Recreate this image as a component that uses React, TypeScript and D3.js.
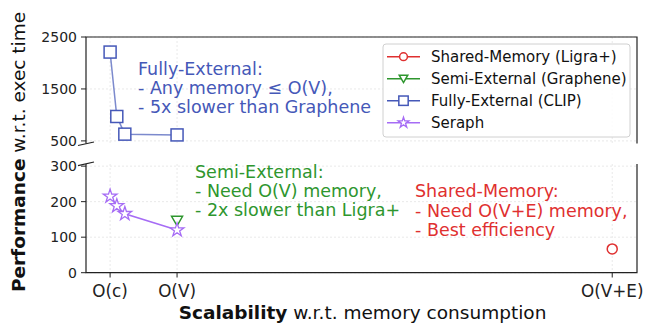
import React from "react";
import * as d3 from "d3";

// x positions on the memory axis: O(c) = 0, O(V) = 1, O(V+E) = 7.5
const xTickVals = [0, 1, 7.5];
const xTickLabels = ["O(c)", "O(V)", "O(V+E)"];

const clipX = [0, 0.1, 0.22, 1];
const clipY = [2210, 970, 630, 615];

const seraphX = [0, 0.1, 0.22, 1];
const seraphY = [215, 188, 166, 120];

const grapheneX = [1];
const grapheneY = [146];

const ligraX = [7.5];
const ligraY = [67];

const topTicks = [500, 1500, 2500];
const botTicks = [0, 100, 200, 300];

const RED = "#df3030";
const GREEN = "#2e962e";
const BLUE = "#4558b8";
const PURPLE = "#a66cf5";

const FONT = "DejaVu Sans, sans-serif";

const W = 646;
const H = 323;
const L = 86;
const R = 637;

const x = d3.scaleLinear().domain([-0.36, 7.87]).range([L, R]);
const yTop = d3.scaleLinear().domain([450, 2500]).range([143.5, 37]);
const yBot = d3.scaleLinear().domain([0, 306]).range([272.7, 164]);

const starPath = (size: number) => d3.symbol().type(d3.symbolStar).size(size)()!;

export default function App() {
  const lineTop = d3.line<number>().x((d, i) => x(clipX[i])).y((d) => yTop(d));
  const lineBot = d3.line<number>().x((d, i) => x(seraphX[i])).y((d) => yBot(d));

  const grid = "#e9e9e9";

  const legendItems = [
    { label: "Shared-Memory (Ligra+)", color: RED, kind: "circle" },
    { label: "Semi-External (Graphene)", color: GREEN, kind: "tri" },
    { label: "Fully-External (CLIP)", color: BLUE, kind: "square" },
    { label: "Seraph", color: PURPLE, kind: "star" },
  ];

  // s = scale of the marker (1 in the plot, smaller in the legend)
  const marker = (kind: string, cx: number, cy: number, color: string, s = 1) => {
    const t = `translate(${cx},${cy}) scale(${s})`;
    const sw = 1.5 / s;
    if (kind === "circle") return <circle transform={t} r={5} fill="white" stroke={color} strokeWidth={sw} />;
    if (kind === "tri") return <path d="M-5.5,-4.5L5.5,-4.5L0,5Z" transform={t} fill="white" stroke={color} strokeWidth={sw} />;
    if (kind === "square") return <rect x={-6} y={-6} width={12} height={12} transform={t} fill="white" stroke={color} strokeWidth={sw} />;
    return <path d={starPath(58)} transform={t} fill="white" stroke={color} strokeWidth={1.3 / s} />;
  };

  return (
    <svg width={W} height={H} style={{ position: "absolute", left: 0, top: 0 }} fontFamily={FONT}>
      <rect width={W} height={H} fill="white" />

      {/* grid */}
      {xTickVals.map((v) => (
        <g key={"gx" + v}>
          <line x1={x(v)} x2={x(v)} y1={37} y2={143.5} stroke={grid} strokeDasharray="2,2" />
          <line x1={x(v)} x2={x(v)} y1={164} y2={272.7} stroke={grid} strokeDasharray="2,2" />
        </g>
      ))}
      {topTicks.map((t) => (
        <line key={"gt" + t} x1={L} x2={R} y1={yTop(t)} y2={yTop(t)} stroke={grid} strokeDasharray="2,2" />
      ))}
      {botTicks.map((t) => (
        <line key={"gb" + t} x1={L} x2={R} y1={yBot(t)} y2={yBot(t)} stroke={grid} strokeDasharray="2,2" />
      ))}

      {/* spines */}
      <path d={`M${L},143.5V37H${R}V143.5`} fill="none" stroke="#222" strokeWidth={1.2} />
      <path d={`M${L},164V272.7H${R}V164`} fill="none" stroke="#222" strokeWidth={1.2} />
      <line x1={L - 8} y1={145.5} x2={L + 8} y2={142} stroke="#222" strokeWidth={1.2} />
      <line x1={L - 8} y1={165.6} x2={L + 8} y2={162} stroke="#222" strokeWidth={1.2} />

      {/* y ticks */}
      {topTicks.map((t) => (
        <g key={"tt" + t}>
          <line x1={L - 5} x2={L} y1={yTop(t)} y2={yTop(t)} stroke="#222" />
          <text x={L - 9} y={yTop(t) + 5} fontSize={14} textAnchor="end" fill="#222">{t}</text>
        </g>
      ))}
      {botTicks.map((t) => (
        <g key={"bt" + t}>
          <line x1={L - 5} x2={L} y1={yBot(t)} y2={yBot(t)} stroke="#222" />
          <text x={L - 9} y={yBot(t) + 5} fontSize={14} textAnchor="end" fill="#222">{t}</text>
        </g>
      ))}

      {/* x ticks */}
      {xTickVals.map((v, i) => (
        <g key={"xt" + v}>
          <line x1={x(v)} x2={x(v)} y1={272.7} y2={277.5} stroke="#222" />
          <text x={x(v)} y={296.5} fontSize={16.8} textAnchor="middle" fill="#222">{xTickLabels[i]}</text>
        </g>
      ))}

      {/* axis labels */}
      <text x={362.5} y={319} fontSize={18.5} textAnchor="middle" fill="#111">
        <tspan fontWeight="bold">Scalability</tspan> w.r.t. memory consumption
      </text>
      <text transform="translate(25,152) rotate(-90)" fontSize={18.5} textAnchor="middle" fill="#111">
        <tspan fontWeight="bold">Performance</tspan> w.r.t. exec time
      </text>

      {/* CLIP */}
      <path d={lineTop(clipY)!} fill="none" stroke={BLUE} strokeOpacity={0.7} strokeWidth={1.5} />
      {clipY.map((v, i) => (
        <g key={"c" + i}>{marker("square", x(clipX[i]), yTop(v), BLUE)}</g>
      ))}

      {/* Graphene */}
      {grapheneY.map((v, i) => (
        <g key={"g" + i}>{marker("tri", x(grapheneX[i]), yBot(v), GREEN)}</g>
      ))}

      {/* Seraph */}
      <path d={lineBot(seraphY)!} fill="none" stroke={PURPLE} strokeWidth={1.5} />
      {seraphY.map((v, i) => (
        <g key={"s" + i}>{marker("star", x(seraphX[i]), yBot(v), PURPLE)}</g>
      ))}

      {/* Ligra+ */}
      {ligraY.map((v, i) => (
        <g key={"l" + i}>{marker("circle", x(ligraX[i]), yBot(v), RED)}</g>
      ))}

      {/* annotations */}
      <text fontSize={17.5} fill={BLUE}>
        <tspan x={138} y={75}>Fully-External:</tspan>
        <tspan x={138} y={94}>- Any memory ≤ O(V),</tspan>
        <tspan x={138} y={113}>- 5x slower than Graphene</tspan>
      </text>
      <text fontSize={17.5} fill={GREEN}>
        <tspan x={195} y={177.5}>Semi-External:</tspan>
        <tspan x={195} y={196.5}>- Need O(V) memory,</tspan>
        <tspan x={195} y={216}>- 2x slower than Ligra+</tspan>
      </text>
      <text fontSize={17.5} fill={RED}>
        <tspan x={415} y={196.5}>Shared-Memory:</tspan>
        <tspan x={415} y={216.5}>- Need O(V+E) memory,</tspan>
        <tspan x={415} y={236}>- Best efficiency</tspan>
      </text>

      {/* legend */}
      <rect x={383} y={44} width={247} height={93} rx={3} fill="white" fillOpacity={0.85} stroke="#d0d0d0" />
      {legendItems.map((it, i) => {
        const cy = 56.7 + i * 22;
        return (
          <g key={it.label}>
            <line x1={387} x2={420} y1={cy} y2={cy} stroke={it.color} strokeWidth={1.5} />
            {marker(it.kind, 403.5, cy, it.color, 0.78)}
            <text x={431} y={cy + 5.5} fontSize={15} fill="#111">{it.label}</text>
          </g>
        );
      })}
    </svg>
  );
}
